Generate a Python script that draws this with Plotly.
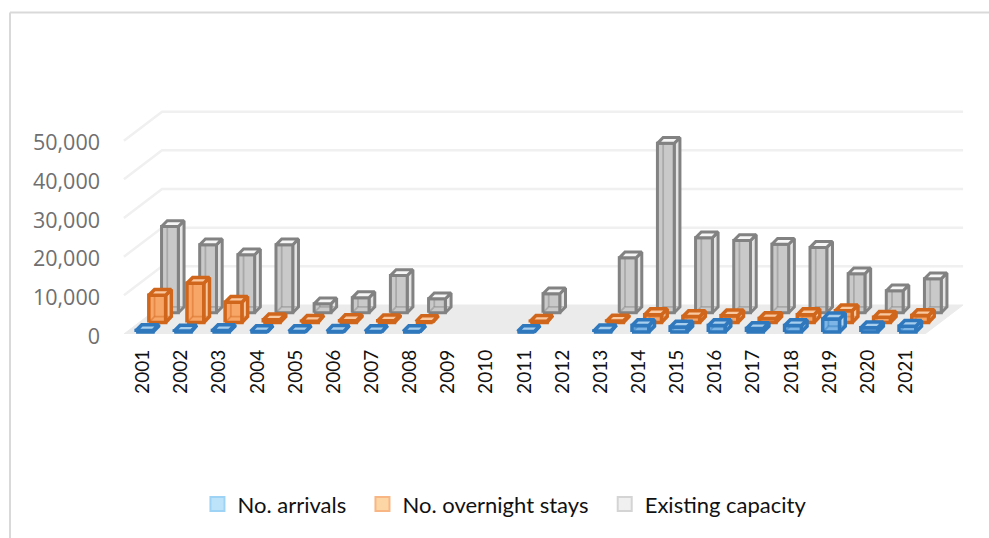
import plotly.graph_objects as go

years = [str(y) for y in range(2001, 2022)]
arrivals = [400, 250, 400, 150, 120, 170, 150, 120, None, None, 150, None, 300,
            1700, 1300, 1700, 900, 1700, 3400, 1100, 1500]
overnight = [7000, 10100, 5200, 700, 300, 450, 400, 200, None, None, 300, None, 350,
             2000, 1500, 1700, 1000, 2000, 3000, 1300, 1800]
capacity = [22300, 17600, 15000, 17600, 2300, 3900, 9600, 3600, None, None, 4900, None, 14200,
            43800, 19400, 18700, 17700, 16900, 10100, 5700, 8800]
value_ticks = [0, 10000, 20000, 30000, 40000, 50000]
tick_text = ["0", "10,000", "20,000", "30,000", "40,000", "50,000"]

series_names = ["No. arrivals", "No. overnight stays", "Existing capacity"]
series_values = [arrivals, overnight, capacity]
edge = ["#2f78bd", "#d0661c", "#828282"]
edge_width = [3.5, 3.5, 3.0]
inner_edge = ["rgba(47,120,189,0.45)", "rgba(208,102,28,0.45)", "rgba(130,130,130,0.45)"]
front_fill = ["#7db6e6", "#f7a668", "#c9c9c9"]
side_fill = ["#b5d6f0", "#f9c9a0", "#e4e4e4"]
top_fill = ["#a9cfee", "#fbc9a0", "#f6f6f6"]
swatch_fill = ["#bde3fb", "#fdd6a5", "#f0f0f0"]
swatch_edge = ["#9fd3f5", "#f7b684", "#d4d4d4"]

# Oblique projection: one depth step moves right along the category axis and up the value axis.
DEPTH_X, DEPTH_Y = 1.0, 7500
BAR_W, BAR_DX, BAR_DY = 0.44, 0.15, 1500
X_LO, X_HI = -0.5, 20.5

fig = go.Figure()


def polygons(name, xs, ys, fill, line, width=3.0, closed=True):
    fig.add_trace(go.Scatter(
        x=xs, y=ys, mode="lines", name=name, showlegend=False, hoverinfo="skip",
        fill="toself" if closed else None, fillcolor=fill if closed else None,
        line=dict(color=line, width=width, shape="linear"), cliponaxis=False,
    ))


# Floor of the chart box
polygons("floor",
         [X_LO, X_HI, X_HI + DEPTH_X, X_LO + DEPTH_X, X_LO],
         [0, 0, DEPTH_Y, DEPTH_Y, 0], "#ebebeb", "#ebebeb", width=1)

# Gridlines running along the side wall and the back wall
grid_x, grid_y = [], []
for v in value_ticks[1:]:
    grid_x += [X_LO, X_LO + DEPTH_X, X_HI + DEPTH_X, None]
    grid_y += [v, v + DEPTH_Y, v + DEPTH_Y, None]
polygons("grid", grid_x, grid_y, None, "#f0f0f0", width=2.5, closed=False)

# Series are stacked in depth, furthest first
for k in (2, 1, 0):
    fx, fy, sx, sy, tx, ty, ix, iy = [], [], [], [], [], [], [], []
    for i, v in enumerate(series_values[k]):
        if v is None:
            continue
        x0 = i - 0.18 + k * DEPTH_X / 3
        y0 = 500 + k * DEPTH_Y / 3
        x1, y1 = x0 + BAR_W, y0 + v
        fx += [x0, x1, x1, x0, x0, None]
        fy += [y0, y0, y1, y1, y0, None]
        sx += [x1, x1 + BAR_DX, x1 + BAR_DX, x1, x1, None]
        sy += [y0, y0 + BAR_DY, y1 + BAR_DY, y1, y0, None]
        tx += [x0, x1, x1 + BAR_DX, x0 + BAR_DX, x0, None]
        ty += [y1, y1, y1 + BAR_DY, y1 + BAR_DY, y1, None]
        ix += [x0, x0 + BAR_DX, x1 + BAR_DX, None, x0 + BAR_DX, x0 + BAR_DX, None]
        iy += [y0, y0 + BAR_DY, y0 + BAR_DY, None, y0 + BAR_DY, y1 + BAR_DY, None]
    polygons("side", sx, sy, side_fill[k], edge[k], width=edge_width[k])
    polygons("front", fx, fy, front_fill[k], edge[k], width=edge_width[k])
    polygons("inner", ix, iy, None, inner_edge[k], width=1.8, closed=False)
    polygons("top", tx, ty, top_fill[k], edge[k], width=edge_width[k])

# Legend entries; the trailing spaces widen the gap between entries
for k, name in enumerate(series_names):
    fig.add_trace(go.Scatter(
        x=[None], y=[None], mode="markers", name=name + "\u00a0\u00a0",
        marker=dict(symbol="square", size=14, color=swatch_fill[k],
                    line=dict(color=swatch_edge[k], width=2)),
    ))

PLOT_W = 843
PLOT_H = 231.6
frame = dict(type="line", xref="paper", yref="paper",
             line=dict(color="#d9d9d9", width=2))
left_edge = (10 - 122) / PLOT_W
top_edge = (334 - 13) / PLOT_H
fig.update_layout(
    width=989, height=538, autosize=False,
    margin=dict(l=122, r=24, t=538 - 204 - PLOT_H, b=204),
    paper_bgcolor="white", plot_bgcolor="rgba(0,0,0,0)",
    showlegend=True,
    legend=dict(orientation="h", x=0.0895, y=-0.734, xanchor="left", yanchor="middle",
                font=dict(family="Lato", size=22, color="#111111"),
                itemwidth=30, traceorder="normal", bgcolor="rgba(0,0,0,0)"),
    xaxis=dict(range=[-0.55, 21.55], showgrid=False, zeroline=False, showline=False,
               tickmode="array", tickvals=list(range(len(years))), ticktext=years,
               tickangle=-90, ticks="", ticklabelstandoff=11,
               tickfont=dict(family="Lato", size=19, color="#111111"), fixedrange=True),
    yaxis=dict(range=[0, 60000], showgrid=False, zeroline=False, showline=False,
               tickmode="array", tickvals=value_ticks, ticktext=tick_text, ticks="",
               ticklabelstandoff=21, ticklabelshift=2,
               tickfont=dict(family="Open Sans", size=21.5, color="#6f6f6f"), fixedrange=True),
    shapes=[
        dict(frame, x0=left_edge, x1=(989 - 122) / PLOT_W, y0=top_edge, y1=top_edge),
        dict(frame, x0=left_edge, x1=left_edge, y0=top_edge, y1=-204 / PLOT_H),
    ],
)

fig.write_html("out.html")
